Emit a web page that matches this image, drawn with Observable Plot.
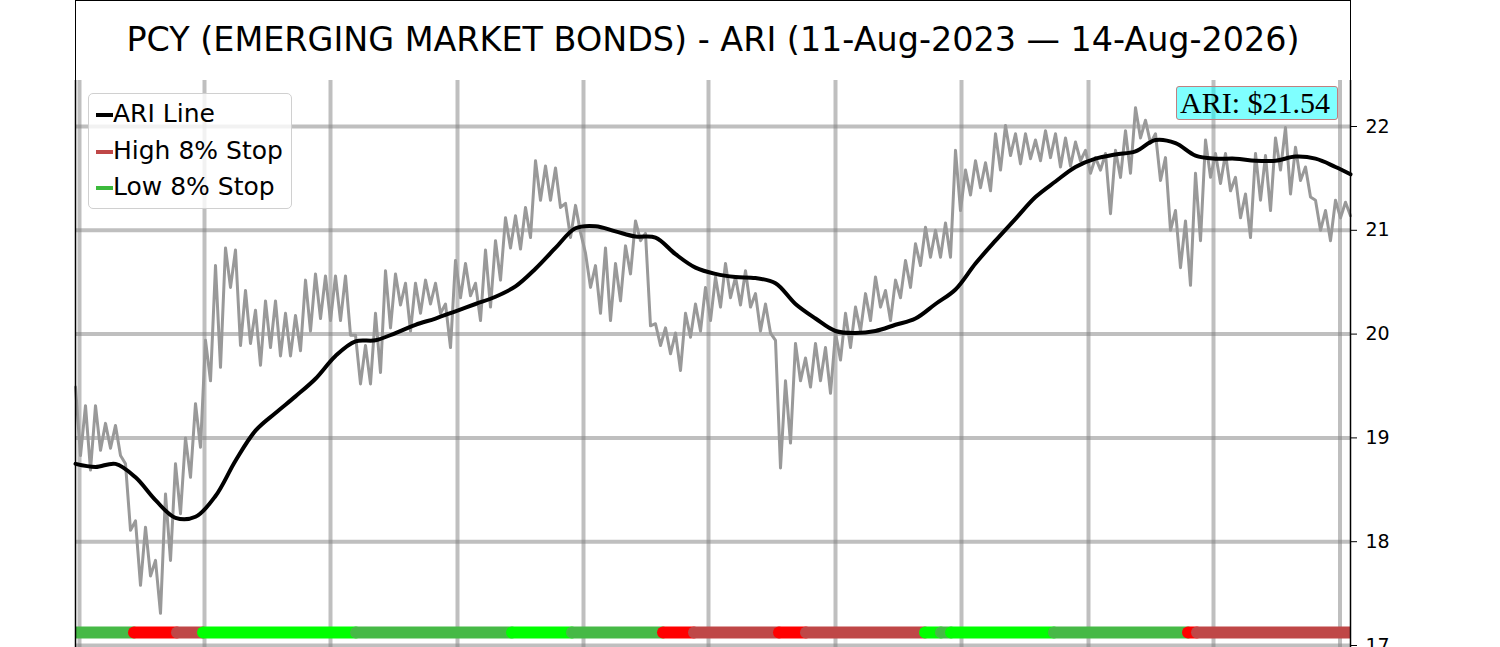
<!DOCTYPE html>
<html>
<head>
<meta charset="utf-8">
<script src="https://cdn.jsdelivr.net/npm/d3@7"></script>
<script src="https://cdn.jsdelivr.net/npm/@observablehq/plot@0.6"></script>
<style>
  body { margin: 0; background: white; }
  #wrap { position: relative; width: 1500px; height: 647px; overflow: hidden; font-family: "DejaVu Sans", sans-serif; }
  #title {
    position: absolute; left: 75px; top: 0; width: 1276px; height: 81px; box-sizing: border-box;
    border: 1.5px solid black; display: flex; align-items: center; justify-content: center;
    font-size: 33.4px; color: black; padding-bottom: 2px;
  }
  #chart { position: absolute; left: 0; top: 80px; }
  #legend {
    position: absolute; left: 88px; top: 93px; width: 204px; height: 116px; box-sizing: border-box;
    border: 1.5px solid #d0d0d0; border-radius: 5px; background: rgba(255,255,255,0.8);
    padding: 2px 0 0 7px; font-size: 25px;
  }
  #legend div { height: 36.5px; line-height: 36.5px; white-space: nowrap; }
  #legend span { display: inline-block; width: 17px; height: 4px; vertical-align: middle; }
  #ari {
    position: absolute; left: 1176px; top: 86px; width: 162px; height: 34px; box-sizing: border-box;
    border: 1.5px solid #c08080; border-radius: 3px; background: rgba(0,255,255,0.5);
    font-family: "Liberation Serif", serif; font-size: 30px; line-height: 31px; padding-left: 3px;
  }
</style>
</head>
<body>
<div id="wrap">
  <div id="title"></div>
  <div id="chart"></div>
  <div id="legend"></div>
  <div id="ari"></div>
</div>
<script>
const title = 'PCY (EMERGING MARKET BONDS) - ARI (11-Aug-2023 — 14-Aug-2026)'
const ariLabel = 'ARI: $21.54'

// price ranges, one pair per ~weekly bin (high / low)
const hiVals = [
  19.49, 19.31, 19.31, 19.14, 19.12, 18.75, 18.20, 18.14, 17.82, 18.46,
  18.75, 19.00, 19.33, 19.94, 20.66, 20.83, 20.81, 20.42, 20.23, 20.32,
  20.32, 20.20, 20.18, 20.52, 20.58, 20.56, 20.56, 20.56, 19.99, 19.89,
  20.20, 20.61, 20.58, 20.49, 20.49, 20.52, 20.49, 20.29, 20.71, 20.68,
  20.49, 20.81, 20.90, 21.12, 21.14, 21.22, 21.67, 21.62, 21.60, 21.26,
  21.24, 20.78, 20.66, 20.83, 20.68, 20.85, 21.09, 20.97, 20.10, 20.06,
  20.01, 20.20, 20.29, 20.45, 20.55, 20.68, 20.55, 20.61, 20.39, 20.29,
  19.94, 19.55, 19.91, 19.77, 19.91, 19.87, 20.01, 20.20, 20.26, 20.39,
  20.55, 20.42, 20.52, 20.71, 20.87, 21.03, 21.00, 21.07, 21.77, 21.58,
  21.67, 21.65, 21.93, 22.01, 21.93, 21.93, 21.87, 21.96, 21.93, 21.89,
  21.85, 21.77, 21.70, 21.74, 21.77, 21.96, 22.18, 22.06, 21.93, 21.70,
  21.19, 21.09, 21.55, 21.87, 21.74, 21.74, 21.51, 21.35, 21.74, 21.72,
  21.89, 21.99, 21.80, 21.61, 21.29, 21.19, 21.29, 21.27
]
const loVals = [
  18.83, 18.69, 18.88, 18.90, 18.83, 18.11, 17.58, 17.67, 17.31, 17.82,
  18.27, 18.62, 18.91, 19.55, 19.68, 20.45, 19.89, 19.91, 19.70, 19.87,
  19.79, 19.79, 19.84, 20.03, 20.15, 20.13, 20.13, 19.99, 19.52, 19.52,
  19.63, 20.06, 20.28, 20.03, 20.20, 20.29, 20.20, 19.87, 20.35, 20.37,
  20.13, 20.26, 20.52, 20.83, 20.82, 20.93, 21.29, 21.29, 21.22, 20.93,
  20.98, 20.45, 20.20, 20.13, 20.32, 20.58, 20.90, 20.08, 19.89, 19.81,
  19.65, 19.97, 20.03, 20.13, 20.26, 20.35, 20.28, 20.26, 20.03, 20.01,
  18.71, 18.95, 19.55, 19.49, 19.55, 19.43, 19.75, 19.87, 20.03, 20.13,
  20.26, 20.13, 20.35, 20.45, 20.66, 20.74, 20.74, 20.74, 21.19, 21.34,
  21.41, 21.38, 21.58, 21.72, 21.64, 21.69, 21.67, 21.70, 21.61, 21.62,
  21.67, 21.55, 21.58, 21.16, 21.51, 21.55, 21.89, 21.84, 21.48, 21.00,
  20.64, 20.47, 20.90, 21.51, 21.45, 21.38, 21.12, 20.93, 21.29, 21.19,
  21.58, 21.35, 21.48, 21.32, 21.00, 20.90, 21.12, 21.14
]

// ARI line, one value every 2 bins, last one at the end
const ariVals = [
  18.75, 18.72, 18.75, 18.62, 18.40, 18.23, 18.24, 18.44, 18.78, 19.07,
  19.24, 19.40, 19.57, 19.79, 19.93, 19.94, 20.01, 20.09, 20.15, 20.22,
  20.29, 20.36, 20.46, 20.63, 20.83, 21.02, 21.04, 20.99, 20.94, 20.93,
  20.77, 20.64, 20.58, 20.55, 20.54, 20.49, 20.29, 20.15, 20.03, 20.01,
  20.03, 20.09, 20.15, 20.29, 20.43, 20.68, 20.90, 21.11, 21.32, 21.47,
  21.61, 21.69, 21.73, 21.76, 21.87, 21.84, 21.72, 21.69, 21.69, 21.67,
  21.67, 21.71, 21.69, 21.61, 21.54
]

// stop state band (bin start, bin end, state)
const segStart = [0, 5.9, 10.2, 12.8, 28.1, 43.7, 49.7, 58.8, 61.9, 70.4, 73.1, 85.0, 86.6, 87.6, 97.9, 111.3, 112.2]
const segEnd   = [5.9, 10.2, 12.8, 28.1, 43.7, 49.7, 58.8, 61.9, 70.4, 73.1, 85.0, 86.6, 87.6, 97.9, 111.3, 112.2, 127.5]
const segState = ['low', 'highNew', 'high', 'lowNew', 'low', 'lowNew', 'low', 'highNew', 'high', 'highNew', 'high', 'lowNew', 'low', 'lowNew', 'low', 'highNew', 'high']
const stateNames = ['low', 'lowNew', 'high', 'highNew']
const stateColors = ['#46b946', '#00ff00', '#bf4747', '#ff0000']
const bandLevel = 17.125

const yTicks = [17, 18, 19, 20, 21, 22]
const gridX = [0.4, 12.9, 25.5, 38.2, 50.8, 63.3, 76.0, 88.6, 101.3, 113.8, 126.45]
const xDomain = [0, 127.5]

const legendLabels = ['ARI Line', 'High 8% Stop', 'Low 8% Stop']
const legendColors = ['black', '#bf4747', '#3cba3c']

const grayPts = hiVals.flatMap((h, i) => [{x: i, y: h}, {x: i + 0.5, y: loVals[i]}])
const ariPts = ariVals.map((v, k) => ({x: Math.min(k * 2, xDomain[1]), y: v}))
const segs = segStart.map((s, i) => ({start: s, end: segEnd[i], state: segState[i], level: bandLevel}))

let chart = Plot.plot({
  width: 1500,
  height: 567,
  marginLeft: 75,
  marginRight: 150,
  marginTop: 0,
  marginBottom: 0,
  style: {fontFamily: 'DejaVu Sans', fontSize: '19px', background: 'white', color: 'black'},
  x: {domain: xDomain, axis: null},
  y: {domain: [17, 22], range: [565, 46]},
  color: {domain: stateNames, range: stateColors},
  marks: [
    Plot.ruleY(yTicks, {stroke: '#808080', strokeOpacity: 0.5, strokeWidth: 4}),
    Plot.ruleX(gridX, {stroke: '#808080', strokeOpacity: 0.5, strokeWidth: 4}),
    Plot.line(grayPts, {x: 'x', y: 'y', curve: 'linear', stroke: '#999999', strokeWidth: 3}),
    Plot.line(ariPts, {x: 'x', y: 'y', curve: 'catmull-rom', stroke: 'black', strokeWidth: 4}),
    Plot.ruleY(segs, {y: 'level', x1: 'start', x2: 'end', stroke: 'state', strokeWidth: 12, strokeLinecap: 'round', clip: true}),
    Plot.ruleX(xDomain, {stroke: 'black', strokeWidth: 1.5}),
    Plot.axisY(yTicks, {anchor: 'right', tickSize: 6, tickPadding: 9, fontSize: 19, label: null, tickFormat: d3.format('d')}),
  ],
})

d3.select('#chart').append(() => chart)
d3.select('#title').text(title)
d3.select('#ari').text(ariLabel)
legendLabels.forEach((l, i) => {
  let row = d3.select('#legend').append('div')
  row.append('span').style('background', legendColors[i])
  row.append('text').text(l)
})
</script>
</body>
</html>
